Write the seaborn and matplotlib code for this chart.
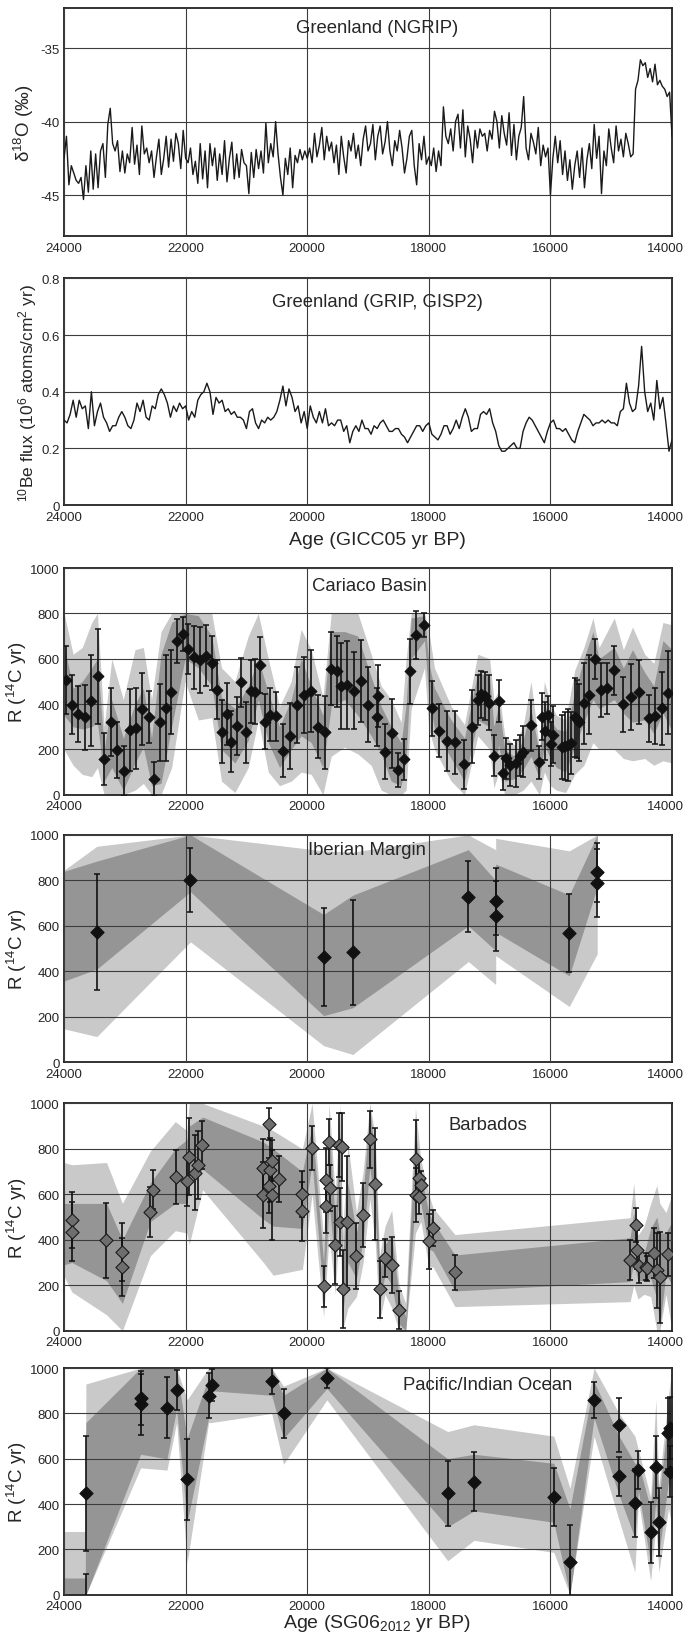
import numpy as np
import matplotlib
matplotlib.use("Agg")
import matplotlib.pyplot as plt
import matplotlib.transforms as mtransforms
from matplotlib.ticker import MultipleLocator, FuncFormatter
import seaborn as sns

# ---------------- data ----------------
# NGRIP d18O, 40-yr spacing from 24000 to 14000
ngrip_age = np.arange(24000, 13999, -40)
ngrip_d18o = [
    -42.5, -41.0, -44.3, -43.0, -43.5, -44.0, -44.2, -43.8, -45.3, -43.0, -44.8, -42.0, -44.6, -42.2, -44.5, -42.0, -41.5, -43.8, -40.2, -39.1, -41.5, -42.0, -41.3, -43.4, -42.0,
    -43.5, -42.2, -42.8, -40.4, -42.9, -41.6, -43.6, -40.3, -42.2, -41.8, -42.8, -42.0, -43.8, -42.4, -41.2, -43.6, -42.5, -41.0, -43.1, -41.2, -42.7, -40.8, -41.5, -43.2, -40.6,
    -42.5, -42.8, -41.8, -43.6, -42.7, -44.2, -41.5, -43.9, -42.0, -44.5, -41.5, -43.0, -41.8, -44.0, -42.2, -43.6, -41.3, -44.1, -42.5, -41.4, -43.9, -42.2, -43.8, -41.9, -42.8,
    -43.0, -44.9, -42.1, -43.8, -41.9, -43.2, -42.0, -43.5, -40.1, -42.8, -41.5, -42.4, -40.0, -42.2, -43.8, -45.0, -42.5, -43.6, -41.8, -44.5, -42.3, -42.8, -41.9, -42.6, -42.0,
    -42.5, -41.8, -42.8, -40.8, -42.4, -41.6, -40.4, -42.6, -41.0, -42.0, -41.4, -42.8, -41.6, -43.6, -41.0, -42.4, -43.5, -41.3, -42.0, -40.8, -42.5, -41.6, -43.0, -41.2, -40.3,
    -42.0, -41.5, -40.2, -42.6, -41.0, -40.3, -42.2, -41.4, -40.0, -42.0, -43.0, -41.3, -42.0, -40.6, -41.8, -43.5, -42.5, -41.0, -40.6, -43.0, -44.3, -41.5, -42.6, -41.0, -42.9,
    -42.4, -43.0, -41.8, -43.4, -42.0, -43.0, -39.0, -41.0, -41.5, -40.5, -42.0, -40.0, -39.5, -41.8, -39.2, -42.4, -40.3, -41.2, -42.8, -40.6, -41.8, -40.5, -41.0, -40.8, -42.0,
    -40.6, -41.2, -39.3, -40.0, -41.8, -39.6, -40.8, -41.6, -39.4, -42.3, -40.2, -42.6, -41.0, -40.4, -38.3, -41.8, -42.6, -40.8, -41.4, -42.2, -40.4, -43.0, -41.6, -42.4, -41.8,
    -45.0, -42.5, -41.0, -42.8, -41.3, -43.6, -42.0, -44.0, -42.6, -44.6, -43.0, -42.0, -43.8, -41.8, -44.5, -42.6, -41.5, -43.2, -40.2, -42.5, -41.0, -44.9, -42.0, -43.0, -40.5,
    -41.8, -42.8, -40.3, -42.0, -41.2, -42.4, -40.8, -41.5, -42.4, -42.2, -37.8, -37.2, -35.8, -36.2, -36.0, -37.0, -36.4, -37.3, -36.1, -37.5, -37.2, -37.6, -37.8, -38.3, -38.0,
    -41.0,
]

# 10Be flux, 50-yr spacing
be_age = np.arange(24000, 13999, -50)
be_flux = [
    0.30, 0.29, 0.32, 0.37, 0.31, 0.37, 0.34, 0.35, 0.27, 0.40, 0.28, 0.33, 0.36, 0.31, 0.29, 0.26, 0.28, 0.28, 0.31, 0.33,
    0.31, 0.28, 0.27, 0.30, 0.36, 0.33, 0.37, 0.31, 0.30, 0.35, 0.34, 0.39, 0.41, 0.39, 0.36, 0.31, 0.35, 0.33, 0.36, 0.34,
    0.35, 0.30, 0.33, 0.31, 0.37, 0.39, 0.40, 0.43, 0.40, 0.32, 0.38, 0.36, 0.37, 0.33, 0.34, 0.32, 0.33, 0.31, 0.31, 0.30,
    0.27, 0.33, 0.34, 0.29, 0.27, 0.30, 0.29, 0.31, 0.30, 0.31, 0.33, 0.37, 0.42, 0.35, 0.41, 0.38, 0.33, 0.35, 0.29, 0.33,
    0.27, 0.35, 0.31, 0.29, 0.33, 0.29, 0.34, 0.28, 0.29, 0.28, 0.30, 0.30, 0.26, 0.28, 0.22, 0.26, 0.28, 0.26, 0.30, 0.27,
    0.27, 0.25, 0.28, 0.27, 0.29, 0.30, 0.28, 0.26, 0.26, 0.27, 0.27, 0.25, 0.24, 0.22, 0.24, 0.26, 0.28, 0.28, 0.26, 0.28,
    0.29, 0.25, 0.24, 0.23, 0.25, 0.28, 0.28, 0.25, 0.27, 0.30, 0.27, 0.31, 0.34, 0.31, 0.26, 0.27, 0.27, 0.32, 0.33, 0.32,
    0.34, 0.29, 0.26, 0.21, 0.19, 0.19, 0.20, 0.21, 0.22, 0.20, 0.20, 0.26, 0.29, 0.31, 0.30, 0.28, 0.26, 0.24, 0.22, 0.26,
    0.29, 0.30, 0.27, 0.27, 0.26, 0.27, 0.25, 0.23, 0.22, 0.26, 0.29, 0.32, 0.31, 0.30, 0.28, 0.29, 0.29, 0.30, 0.29, 0.30,
    0.29, 0.29, 0.28, 0.33, 0.34, 0.43, 0.36, 0.33, 0.34, 0.42, 0.56, 0.40, 0.33, 0.36, 0.30, 0.44, 0.34, 0.38, 0.29, 0.19,
    0.23,
]

# Cariaco Basin
cariaco_age = [23964, 23870, 23762, 23661, 23560, 23445, 23344, 23229, 23128, 23013, 22919, 22811, 22710, 22609, 22516, 22422,
               22329, 22235, 22141, 22048, 21954, 21860, 21767, 21673, 21572, 21486, 21399, 21327, 21255, 21161, 21096, 21010,
               20931, 20852, 20780, 20693, 20607, 20506, 20391, 20283, 20160, 20059, 19944, 19829, 19714, 19612, 19511, 19438,
               19338, 19230, 19122, 19007, 18834, 18849, 18719, 18604, 18501, 18401, 18314, 18207, 18085, 17941, 17826, 17696,
               17567, 17422, 17293, 17192, 17134, 17076, 17004, 16932, 16846, 16788, 16731, 16666, 16558, 16508, 16443, 16320,
               16183, 16140, 16097, 16039, 15996, 15953, 15809, 15766, 15708, 15657, 15600, 15564, 15528, 15455, 15362, 15275,
               15174, 15066, 14951, 14807, 14670, 14540, 14382, 14281, 14165, 14058]
cariaco_r = [507, 397, 356, 341, 415, 522, 157, 319, 197, 106, 285, 293, 378, 344, 69, 319,
             382, 454, 679, 709, 643, 606, 594, 613, 581, 463, 278, 356, 234, 304, 496, 275,
             456, 454, 573, 323, 354, 346, 194, 260, 397, 441, 459, 300, 275, 557, 544, 481,
             484, 459, 503, 398, 437, 344, 190, 271, 109, 157, 544, 706, 749, 381, 282, 238,
             231, 135, 301, 418, 443, 435, 407, 172, 413, 96, 160, 131, 138, 172, 190, 307,
             143, 344, 282, 351, 224, 265, 212, 216, 219, 228, 341, 334, 319, 403, 441, 599,
             463, 469, 550, 400, 432, 454, 337, 349, 381, 451]
cariaco_err = [150, 130, 123, 145, 200, 210, 115, 150, 125, 110, 180, 180, 160, 115, 75, 170,
               235, 185, 97, 75, 112, 138, 145, 135, 120, 130, 140, 136, 135, 128, 108, 134,
               138, 143, 122, 122, 118, 108, 117, 147, 167, 167, 180, 140, 160, 160, 158, 190,
               195, 170, 180, 165, 136, 127, 121, 153, 76, 90, 143, 105, 51, 121, 117, 131,
               140, 108, 162, 112, 103, 107, 121, 90, 93, 75, 90, 93, 105, 90, 112, 113,
               73, 103, 127, 86, 95, 127, 142, 150, 160, 135, 175, 174, 170, 178, 174, 90,
               118, 114, 108, 121, 147, 140, 103, 123, 160, 184]
cariaco_band_age = [24000, 23850, 23700, 23545, 23450, 23340, 23215, 23025, 22833, 22695, 22560, 22405, 22230, 22010,
                    21790, 21570, 21410, 21190, 20970, 20805, 20640, 20455, 20263, 20100, 19934, 19742, 19605, 19386,
                    19167, 18948, 18784, 18619, 18455, 18373, 18290, 18071, 18000, 17907, 17633, 17414, 17195, 17000,
                    16930, 16850, 16750, 16600, 16450, 16320, 16180, 16100, 16000, 15900, 15750, 15600, 15450, 15300,
                    15200, 14950, 14800, 14650, 14450, 14300, 14150, 14000]
cariaco_outer_lo = [200, 130, 90, 80, 120, 0, 0, 0, 20, 50, 0, 0, 120, 500,
                    330, 340, 60, 10, 120, 330, 100, 40, 60, 100, 90, 0, 170, 210,
                    180, 130, 20, 0, 0, 20, 380, 560, 290, 200, 60, 0, 260, 200,
                    30, 100, 0, 0, 20, 60, 0, 100, 40, 20, 10, 90, 130, 230,
                    200, 200, 160, 150, 160, 130, 150, 140]
cariaco_inner_lo = [350, 300, 290, 300, 320, 60, 120, 20, 140, 210, 40, 50, 300, 600,
                    560, 480, 200, 140, 240, 420, 230, 120, 200, 260, 230, 120, 390, 420,
                    350, 260, 180, 60, 40, 160, 600, 680, 430, 290, 160, 60, 330, 300,
                    120, 220, 60, 70, 110, 170, 70, 220, 160, 120, 100, 210, 320, 420,
                    380, 420, 360, 320, 330, 270, 360, 280]
cariaco_inner_hi = [660, 470, 500, 560, 600, 200, 420, 250, 400, 470, 250, 620, 760, 800,
                    790, 700, 430, 380, 480, 600, 450, 300, 420, 600, 480, 350, 720, 720,
                    700, 520, 390, 300, 230, 400, 780, 790, 580, 470, 330, 250, 540, 520,
                    300, 400, 200, 170, 240, 380, 180, 400, 330, 290, 280, 450, 600, 720,
                    600, 650, 560, 640, 540, 480, 680, 640]
cariaco_outer_hi = [800, 620, 650, 760, 800, 300, 600, 420, 640, 650, 420, 720, 800, 800,
                    800, 800, 560, 500, 700, 800, 600, 390, 500, 730, 640, 430, 800, 800,
                    800, 620, 480, 420, 320, 600, 800, 800, 720, 560, 390, 310, 620, 600,
                    420, 460, 260, 220, 300, 500, 200, 500, 400, 350, 330, 550, 650, 780,
                    650, 780, 640, 740, 620, 580, 760, 750]

# Iberian Margin
iberian_age = [23460, 21920, 19730, 19250, 17350, 16900, 16900, 15690, 15230, 15230]
iberian_r = [572, 802, 462, 484, 729, 708, 644, 569, 836, 787]
iberian_err = [255, 142, 215, 231, 157, 148, 154, 171, 130, 150]
iberian_band_age = [24000, 23460, 21920, 19730, 19250, 17350, 16900, 16900, 15690, 15230]
iberian_outer_lo = [147, 113, 530, 73, 34, 443, 342, 469, 245, 477]
iberian_inner_lo = [357, 410, 750, 205, 240, 600, 491, 572, 380, 770]
iberian_inner_hi = [840, 885, 1000, 650, 735, 935, 800, 872, 736, 1000]
iberian_outer_hi = [845, 950, 1000, 930, 925, 1000, 935, 985, 930, 1000]

# Barbados
barbados_age = [23870, 23870, 23308, 23042, 23042, 22588, 22538, 22163, 21976, 21947, 21853, 21795, 21723,
                20735, 20721, 20628, 20628, 20607, 20578, 20578, 20470, 20088, 20088, 19922, 19727, 19691,
                19683, 19640, 19633, 19546, 19474, 19467, 19432, 19417, 19339, 19194, 19079, 18971, 18878,
                18806, 18719, 18611, 18489, 18215, 18215, 18165, 18157, 18129, 17999, 17927, 17567, 14685,
                14590, 14568, 14540, 14432, 14410, 14303, 14252, 14202, 14072]
barbados_r = [487, 435, 399, 348, 282, 521, 620, 677, 658, 765, 694, 729, 817,
              597, 714, 909, 638, 707, 597, 748, 667, 601, 525, 804, 195, 663,
              550, 831, 628, 377, 817, 480, 809, 183, 480, 330, 510, 842, 645,
              183, 320, 289, 91, 754, 598, 587, 672, 641, 393, 452, 257, 311,
              465, 356, 286, 282, 274, 342, 267, 235, 336]
barbados_err = [125, 130, 165, 128, 128, 110, 85, 120, 110, 170, 165, 150, 105,
                145, 130, 70, 120, 140, 200, 90, 100, 100, 130, 95, 90, 140,
                120, 100, 100, 170, 140, 150, 150, 170, 290, 145, 140, 125, 245,
                125, 85, 125, 85, 175, 120, 75, 75, 60, 120, 80, 78, 90,
                75, 85, 75, 60, 55, 110, 165, 200, 95]
barbados_band_age = [24000, 23870, 23300, 23040, 22580, 22170, 21980, 21940, 21720, 20720, 20560, 20080, 19920,
                     19730, 19640, 19540, 19460, 19420, 19330, 19190, 19080, 18970, 18880, 18810, 18720, 18610,
                     18490, 18380, 18220, 18130, 18000, 17930, 17570, 14690, 14630, 14560, 14460, 14350, 14250,
                     14200, 14100, 14000]
barbados_outer_lo = [240, 170, 70, 0, 330, 440, 430, 380, 620, 300, 244, 270, 600,
                     60, 420, 160, 520, 0, 100, 150, 300, 580, 380, 40, 160, 100,
                     0, 0, 430, 480, 280, 280, 106, 128, 200, 140, 160, 150, 0,
                     0, 160, 0]
barbados_inner_lo = [290, 300, 220, 120, 480, 560, 560, 640, 711, 490, 460, 450, 740,
                     150, 560, 280, 700, 60, 300, 230, 400, 720, 500, 110, 250, 200,
                     30, 0, 580, 560, 360, 350, 175, 216, 300, 220, 220, 230, 140,
                     20, 250, 200]
barbados_inner_hi = [560, 560, 560, 400, 650, 800, 840, 900, 940, 830, 800, 700, 900,
                     300, 900, 480, 880, 300, 650, 430, 600, 980, 760, 260, 380, 420,
                     150, 60, 880, 680, 520, 480, 333, 409, 520, 380, 340, 450, 500,
                     430, 430, 480]
barbados_outer_hi = [740, 730, 740, 560, 790, 920, 880, 1000, 1000, 900, 880, 800, 1000,
                     400, 1000, 600, 1000, 420, 820, 520, 700, 1000, 850, 330, 460, 530,
                     200, 120, 980, 750, 600, 540, 423, 497, 650, 420, 460, 560, 640,
                     560, 520, 600]

# Pacific / Indian Ocean
pacific_age = [23640, 23640, 22740, 22740, 22307, 22148, 21975, 21622, 21572, 20585, 20390, 19677, 17689,
               17257, 15945, 15679, 15282, 14872, 14872, 14611, 14553, 14352, 14266, 14216, 14058, 14036, 14036]
pacific_r = [447, -250, 868, 841, 826, 904, 510, 878, 925, 944, 800, 957, 447,
             499, 432, 146, 860, 749, 522, 404, 551, 275, 562, 319, 712, 735, 543]
pacific_err = [254, 341, 118, 135, 136, 87, 178, 100, 69, 60, 110, 45, 143,
               130, 128, 161, 80, 121, 85, 150, 83, 134, 137, 150, 158, 137, 113]
pacific_band_age = [24000, 23650, 23640, 22740, 22307, 22148, 21975, 21622, 21572, 20585, 20390, 19677, 17689,
                    17257, 15945, 15679, 15282, 14872, 14611, 14553, 14352, 14266, 14216, 14058, 14000]
pacific_outer_lo = [0, 0, 0, 560, 550, 760, 140, 760, 760, 800, 576, 860, 150,
                    240, 187, 0, 700, 330, 100, 420, 60, 300, 100, 380, 300]
pacific_inner_lo = [0, 0, 0, 620, 600, 820, 320, 780, 900, 880, 690, 910, 300,
                    370, 320, 0, 780, 440, 250, 460, 140, 420, 180, 500, 450]
pacific_inner_hi = [74, 74, 760, 1000, 1000, 1000, 690, 960, 1000, 1000, 880, 1000, 600,
                    620, 580, 380, 940, 700, 580, 580, 380, 700, 420, 800, 850]
pacific_outer_hi = [279, 279, 930, 1000, 1000, 1000, 860, 1000, 1000, 1000, 920, 1000, 720,
                    750, 700, 470, 1000, 800, 700, 640, 430, 860, 480, 880, 1000]

# ---------------- style ----------------
sns.set_style("white")
plt.rcParams["font.family"] = ["Liberation Sans", "DejaVu Sans"]
plt.rcParams["mathtext.fontset"] = "custom"
plt.rcParams["mathtext.rm"] = "Liberation Sans"
plt.rcParams["mathtext.it"] = "Liberation Sans:italic"
plt.rcParams["mathtext.default"] = "rm"

LIGHT = "#c9c9c9"
DARK = "#959595"
GRID = "#3c3c3c"
YLAB = 13.5
XLAB = 14
TITLE = 13.3

fig = plt.figure(figsize=(6.87, 16.33), dpi=100)
left, width = 0.0932, 0.885
rects = [
    (0.8547, 0.1396),
    (0.6901, 0.1388),
    (0.5127, 0.1388),
    (0.3489, 0.1392),
    (0.1845, 0.1392),
    (0.0228, 0.1388),
]
axes = [fig.add_axes([left, b, width, h]) for b, h in rects]


def style_axis(ax):
    ax.set_xlim(24000, 14000)
    ax.xaxis.set_major_locator(MultipleLocator(2000))
    ax.xaxis.set_minor_locator(MultipleLocator(200))
    ax.xaxis.set_major_formatter(FuncFormatter(lambda v, p: f"{int(v)}"))
    ax.tick_params(which="both", direction="in", top=False, right=False,
                   labelsize=9.5, color="#222222")
    ax.tick_params(which="major", length=0, pad=3)
    ax.tick_params(axis="x", which="major", pad=4)
    ax.tick_params(which="minor", length=3.5, width=0.8)
    ax.grid(True, which="major", color=GRID, lw=0.8)
    ax.set_axisbelow(False)
    for sp in ax.spines.values():
        sp.set_linewidth(1.3)
        sp.set_color("#222222")
    ax.set_xlabel("")
    ax.set_ylabel("")


def draw_site(ax, age, r, err, b_age, olo, ilo, ihi, ohi, face, edge, msize):
    ax.fill_between(b_age, olo, ohi, color=LIGHT, lw=0, zorder=1)
    ax.fill_between(b_age, ilo, ihi, color=DARK, lw=0, zorder=1.1)
    ax.errorbar(age, r, yerr=err, fmt="none", ecolor="#111111", elinewidth=1.2,
                capsize=2.3, capthick=1.1, zorder=3)
    sns.scatterplot(x=age, y=r, ax=ax, marker="D", s=msize, color=face,
                    edgecolor=edge, linewidth=0.8, zorder=4, legend=False)
    style_axis(ax)
    ax.set_ylim(0, 1000)
    ax.yaxis.set_major_locator(MultipleLocator(200))
    ax.yaxis.set_minor_locator(MultipleLocator(20))
    ax.set_ylabel("R ($^{14}$C yr)", fontsize=YLAB, labelpad=1)


def title(ax, x, y, s):
    ax.text(x, y, s, transform=ax.transAxes, ha="center", va="center", fontsize=TITLE)


# panel 1: NGRIP
ax = axes[0]
sns.lineplot(x=ngrip_age, y=ngrip_d18o, ax=ax, color="#1a1a1a", lw=1.0, zorder=3)
style_axis(ax)
ax.set_ylim(-47.8, -32.3)
ax.yaxis.set_major_locator(MultipleLocator(5))
ax.yaxis.set_minor_locator(MultipleLocator(1))
ax.yaxis.set_major_formatter(FuncFormatter(lambda v, p: f"{int(round(v))}"))
ax.set_ylabel("δ$^{18}$O (‰)", fontsize=YLAB, labelpad=3)
title(ax, 0.515, 0.918, "Greenland (NGRIP)")

# panel 2: 10Be
ax = axes[1]
sns.lineplot(x=be_age, y=be_flux, ax=ax, color="#1a1a1a", lw=1.0, zorder=3)
style_axis(ax)
ax.set_ylim(0, 0.8)
ax.yaxis.set_major_locator(MultipleLocator(0.2))
ax.yaxis.set_minor_locator(MultipleLocator(0.02))
ax.yaxis.set_major_formatter(FuncFormatter(lambda v, p: "0" if abs(v) < 1e-9 else f"{v:.1f}"))
ax.set_ylabel("$^{10}$Be flux (10$^{6}$ atoms/cm$^{2}$ yr)", fontsize=12.5, labelpad=2)
ax.set_xlabel("Age (GICC05 yr BP)", fontsize=XLAB, labelpad=6)
ax.xaxis.label.set_x(0.515)
title(ax, 0.515, 0.90, "Greenland (GRIP, GISP2)")

# panel 3: Cariaco
ax = axes[2]
draw_site(ax, cariaco_age, cariaco_r, cariaco_err, cariaco_band_age, cariaco_outer_lo,
          cariaco_inner_lo, cariaco_inner_hi, cariaco_outer_hi, "#111111", "#111111", 30)
title(ax, 0.502, 0.922, "Cariaco Basin")

# panel 4: Iberian Margin
ax = axes[3]
draw_site(ax, iberian_age, iberian_r, iberian_err, iberian_band_age, iberian_outer_lo,
          iberian_inner_lo, iberian_inner_hi, iberian_outer_hi, "#111111", "#111111", 45)
title(ax, 0.499, 0.936, "Iberian Margin")

# panel 5: Barbados
ax = axes[4]
draw_site(ax, barbados_age, barbados_r, barbados_err, barbados_band_age, barbados_outer_lo,
          barbados_inner_lo, barbados_inner_hi, barbados_outer_hi, "#6e6e6e", "#1a1a1a", 45)
title(ax, 0.698, 0.909, "Barbados")

# panel 6: Pacific / Indian Ocean
ax = axes[5]
draw_site(ax, pacific_age, pacific_r, pacific_err, pacific_band_age, pacific_outer_lo,
          pacific_inner_lo, pacific_inner_hi, pacific_outer_hi, "#111111", "#111111", 45)
ax.set_xlabel("Age (SG06$_{2012}$ yr BP)", fontsize=XLAB, labelpad=0)
ax.xaxis.label.set_x(0.515)
title(ax, 0.696, 0.929, "Pacific/Indian Ocean")

# keep the right-most tick label inside the figure
fig.canvas.draw()
shift = mtransforms.ScaledTranslation(-5 / 72, 0, fig.dpi_scale_trans)
for ax in axes:
    for t in ax.xaxis.get_major_ticks():
        if t.label1.get_text() == "14000":
            t.label1.set_transform(t.label1.get_transform() + shift)

fig.savefig("out.png", dpi=100)
